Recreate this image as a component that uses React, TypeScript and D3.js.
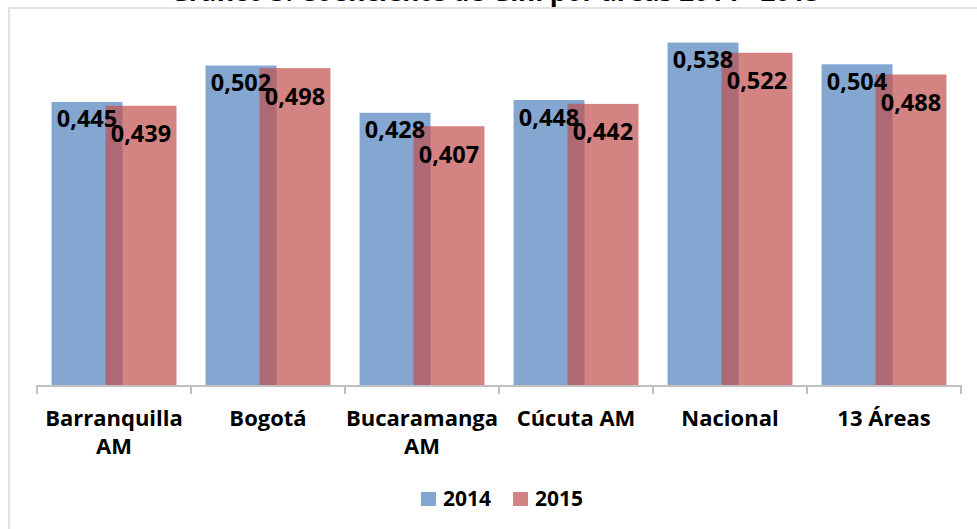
import React from "react";
import * as d3 from "d3";

const title = "Gráfico 3. Coeficiente de Gini por áreas 2014 - 2015";
const categories = ["Barranquilla AM", "Bogotá", "Bucaramanga AM", "Cúcuta AM", "Nacional", "13 Áreas"];
const categoryLines = [["Barranquilla", "AM"], ["Bogotá"], ["Bucaramanga", "AM"], ["Cúcuta AM"], ["Nacional"], ["13 Áreas"]];
const seriesNames = ["2014", "2015"];
const values2014 = [0.445, 0.502, 0.428, 0.448, 0.538, 0.504];
const values2015 = [0.439, 0.498, 0.407, 0.442, 0.522, 0.488];
const labels2014 = ["0,445", "0,502", "0,428", "0,448", "0,538", "0,504"];
const labels2015 = ["0,439", "0,498", "0,407", "0,442", "0,522", "0,488"];

const W = 977;
const H = 529;
const FONT = "'Open Sans', 'Noto Sans', sans-serif";
const colors = ["#4f81bd", "#c0504d"];

export default function App() {
  const x = d3.scaleBand<string>().domain(categories).range([37, 961]).padding(0);
  const y = d3.scaleLinear().domain([0, 0.6]).range([386, 3]);
  const bw = x.bandwidth();
  const overlap = 0.24;
  const gap = 0.41;
  const barW = bw / (2 - overlap + gap);
  const groupW = barW * (2 - overlap);
  const step = barW * (1 - overlap);
  const series = [values2014, values2015];
  const labels = [labels2014, labels2015];
  const labelDy = [25.5, 36.5];

  return (
    <svg width={W} height={H} style={{ position: "absolute", left: 0, top: 0, background: "#fff" }}>
      <rect x={9} y={8} width={1200} height={800} fill="#fff" stroke="#d9d9d9" strokeWidth={1.5} />
      <text x={495} y={0.5} textAnchor="middle" fontFamily={FONT} fontWeight="bold" fontSize={26} fill="#000">
        {title}
      </text>
      {series.map((vals, s) => (
        <g key={s}>
          {categories.map((c, i) => {
            const bx = (x(c) as number) + (bw - groupW) / 2 + s * step;
            const top = y(vals[i]);
            return (
              <rect key={c} x={bx} y={top} width={barW} height={y(0) - top} fill={colors[s]} fillOpacity={0.7} />
            );
          })}
        </g>
      ))}
      {series.map((vals, s) => (
        <g key={"l" + s}>
          {categories.map((c, i) => {
            const bx = (x(c) as number) + (bw - groupW) / 2 + s * step;
            return (
              <text key={c} x={bx + barW / 2} y={y(vals[i]) + labelDy[s]} textAnchor="middle"
                fontFamily={FONT} fontWeight="bold" fontSize={23.5} fill="#000">
                {labels[s][i]}
              </text>
            );
          })}
        </g>
      ))}
      <line x1={37} x2={961} y1={386} y2={386} stroke="#c0c0c0" strokeWidth={2} />
      {[...categories.map((c) => x(c) as number), 961].map((tx, i) => (
        <line key={i} x1={tx} x2={tx} y1={385} y2={394} stroke="#c0c0c0" strokeWidth={2} />
      ))}
      {categories.map((c, i) => (
        <text key={c} x={(x(c) as number) + bw / 2} y={426} textAnchor="middle" fontFamily={FONT}
          fontWeight="bold" fontSize={22} fill="#000">
          {categoryLines[i].map((ln, k) => (
            <tspan key={k} x={(x(c) as number) + bw / 2} dy={k === 0 ? 0 : 28}>{ln}</tspan>
          ))}
        </text>
      ))}
      {seriesNames.map((n, s) => (
        <g key={n} transform={`translate(${421 + s * 92},492)`}>
          <rect x={0} y={0} width={15} height={14} fill={colors[s]} fillOpacity={0.7} />
          <text x={22} y={14} fontFamily={FONT} fontWeight="bold" fontSize={21} fill="#000">{n}</text>
        </g>
      ))}
    </svg>
  );
}
